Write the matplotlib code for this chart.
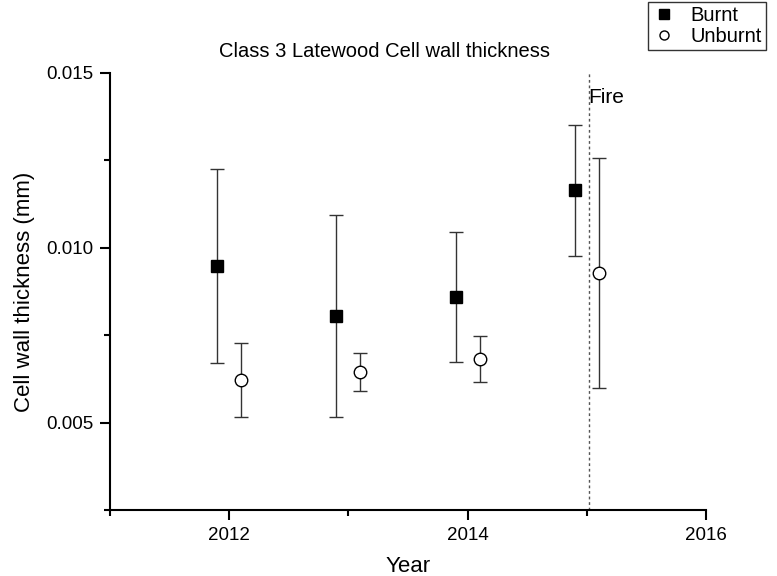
import numpy as np
import matplotlib.pyplot as plt
from matplotlib.ticker import MultipleLocator
from matplotlib.lines import Line2D

plt.rcParams['font.family'] = ['Liberation Sans', 'DejaVu Sans']

# data
years_burnt = [2011.9, 2012.9, 2013.9, 2014.9]
years_unburnt = [2012.1, 2013.1, 2014.1, 2015.1]
burnt = [0.00948, 0.00805, 0.00859, 0.01164]
burnt_err = [0.00277, 0.00289, 0.00187, 0.00188]
unburnt = [0.00622, 0.00644, 0.00682, 0.00928]
unburnt_err = [0.00106, 0.00055, 0.00066, 0.00329]
fire_year = 2015.02

fig = plt.figure(figsize=(7.77, 5.76), dpi=100)
ax = fig.add_axes([0.1416, 0.1146, 0.767, 0.7587])

ax.errorbar(years_burnt, burnt, yerr=burnt_err, fmt='s', color='black',
            ecolor='#333333', elinewidth=1, capsize=5, capthick=1,
            markersize=8)
ax.errorbar(years_unburnt, unburnt, yerr=unburnt_err, fmt='o', color='black',
            markerfacecolor='white', ecolor='#333333', elinewidth=1, capsize=5,
            capthick=1, markersize=9, markeredgewidth=1)

ax.axvline(fire_year, color='#555555', linestyle=(0, (2, 2)), linewidth=1)
ax.text(fire_year - 0.01, 0.0143, 'Fire', fontsize=15, ha='left', va='center')

ax.set_xlim(2011, 2016)
ax.set_ylim(0.0025, 0.015)
ax.xaxis.set_major_locator(MultipleLocator(2))
ax.xaxis.set_minor_locator(MultipleLocator(1))
ax.yaxis.set_major_locator(MultipleLocator(0.005))
ax.yaxis.set_minor_locator(MultipleLocator(0.0025))
ax.yaxis.set_major_formatter(plt.FormatStrFormatter('%.3f'))

for side in ['top', 'right']:
    ax.spines[side].set_visible(False)
for side in ['left', 'bottom']:
    ax.spines[side].set_linewidth(1.5)
ax.tick_params(which='major', length=7, width=1.5, labelsize=13.5, pad=5)
ax.tick_params(which='minor', length=4, width=1.5)

ax.set_xlabel('Year', fontsize=16, labelpad=9)
ax.set_ylabel('Cell wall thickness (mm)', fontsize=16, labelpad=8)
fig.text(0.495, 0.91, 'Class 3 Latewood Cell wall thickness', fontsize=14.5,
         ha='center', va='center')

handles = [Line2D([], [], marker='s', color='black', linestyle='none', markersize=6.5),
           Line2D([], [], marker='o', color='black', markerfacecolor='white',
                  linestyle='none', markersize=6.5)]
leg = ax.legend(handles, ['Burnt', 'Unburnt'], loc='upper left',
                bbox_to_anchor=(0.834, 0.997), bbox_transform=fig.transFigure,
                frameon=True, fancybox=False, edgecolor='black', fontsize=14.5,
                handletextpad=0.7, borderpad=0.2, labelspacing=0.1,
                handlelength=1.2, borderaxespad=0.0)
leg.get_frame().set_linewidth(1)

fig.savefig('out.png', dpi=100)
